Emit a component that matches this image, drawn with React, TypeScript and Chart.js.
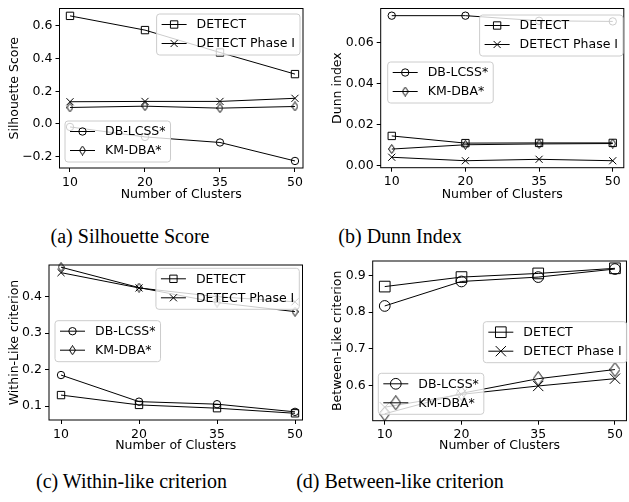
import React, { useEffect, useRef } from 'react';
import { Chart, registerables } from 'chart.js';
import { drawPoint } from 'chart.js/helpers';

Chart.register(...registerables);

// ---------- data ----------
const clusterLabels = ['10', '20', '35', '50'];
const seriesNames = ['DETECT', 'DETECT Phase I', 'DB-LCSS*', 'KM-DBA*'];

const silhouetteDetect = [0.661, 0.574, 0.437, 0.305];
const silhouettePhase1 = [0.136, 0.138, 0.138, 0.157];
const silhouetteDbLcss = [-0.018, -0.079, -0.113, -0.226];
const silhouetteKmDba = [0.101, 0.109, 0.097, 0.107];
const silhouetteTicks = [-0.2, 0.0, 0.2, 0.4, 0.6];

const dunnDetect = [0.0145, 0.011, 0.0111, 0.0111];
const dunnPhase1 = [0.0041, 0.0024, 0.0031, 0.0024];
const dunnDbLcss = [0.0732, 0.0732, 0.0707, 0.0704];
const dunnKmDba = [0.0081, 0.0102, 0.0106, 0.0108];
const dunnTicks = [0.0, 0.02, 0.04, 0.06];

const withinDetect = [0.13, 0.103, 0.094, 0.08];
const withinPhase1 = [0.466, 0.424, 0.4, 0.386];
const withinDbLcss = [0.185, 0.112, 0.105, 0.084];
const withinKmDba = [0.481, 0.425, 0.384, 0.359];
const withinTicks = [0.1, 0.2, 0.3, 0.4];

const betweenDetect = [0.87, 0.896, 0.906, 0.92];
const betweenPhase1 = [0.54, 0.575, 0.598, 0.618];
const betweenDbLcss = [0.817, 0.884, 0.896, 0.918];
const betweenKmDba = [0.522, 0.578, 0.618, 0.643];
const betweenTicks = [0.6, 0.7, 0.8, 0.9];

// ---------- layout / style ----------
const FONT_FAMILY = '"DejaVu Sans", sans-serif';
const FONT_SIZE = 12.5;
const LINE_H = FONT_SIZE * 1.2;

type LegendSpec = { items: number[]; x: number; y: number; anchor: 'left' | 'right' };
type PanelSpec = {
  key: string;
  left: number;
  top: number;
  width: number;
  height: number;
  area: { left: number; top: number; right: number; bottom: number };
  xMin: number;
  xMax: number;
  yMin: number;
  yMax: number;
  yTicks: number[];
  yDecimals: number;
  yTitle: string;
  yTitleX: number;
  xTitleY: number;
  series: number[][];
  legends: LegendSpec[];
  markerScale: number;
  caption: string;
  captionX: number;
  captionY: number;
};

const panels: PanelSpec[] = [
  {
    key: 'a', left: 0, top: 0, width: 315, height: 205,
    area: { left: 59.5, top: 8.5, right: 303, bottom: 168 },
    xMin: -0.14, xMax: 3.107, yMin: -0.269, yMax: 0.706,
    yTicks: silhouetteTicks, yDecimals: 1, yTitle: 'Silhouette Score', yTitleX: 14.5, xTitleY: 195,
    series: [silhouetteDetect, silhouettePhase1, silhouetteDbLcss, silhouetteKmDba],
    legends: [
      { items: [0, 1], x: 300, y: 14, anchor: 'right' },
      { items: [2, 3], x: 65, y: 121, anchor: 'left' },
    ],
    markerScale: 1, caption: '(a) Silhouette Score', captionX: 130, captionY: 225.7,
  },
  {
    key: 'b', left: 315, top: 0, width: 315, height: 205,
    area: { left: 65.7, top: 8.5, right: 314.2, bottom: 167.7 },
    xMin: -0.15, xMax: 3.15, yMin: -0.001, yMax: 0.0767,
    yTicks: dunnTicks, yDecimals: 2, yTitle: 'Dunn index', yTitleX: 22.7, xTitleY: 195,
    series: [dunnDetect, dunnPhase1, dunnDbLcss, dunnKmDba],
    legends: [
      { items: [0, 1], x: 308, y: 15, anchor: 'right' },
      { items: [2, 3], x: 72.7, y: 62, anchor: 'left' },
    ],
    markerScale: 1, caption: '(b) Dunn Index', captionX: 400, captionY: 225.7,
  },
  {
    key: 'c', left: 0, top: 250, width: 315, height: 205,
    area: { left: 49, top: 15, right: 302.5, bottom: 170 },
    xMin: -0.154, xMax: 3.096, yMin: 0.0616, yMax: 0.487,
    yTicks: withinTicks, yDecimals: 1, yTitle: 'Within-Like criterion', yTitleX: 15, xTitleY: 196,
    series: [withinDetect, withinPhase1, withinDbLcss, withinKmDba],
    legends: [
      { items: [0, 1], x: 299.3, y: 18.3, anchor: 'right' },
      { items: [2, 3], x: 55, y: 70.7, anchor: 'left' },
    ],
    markerScale: 1, caption: '(c) Within-like criterion', captionX: 131.5, captionY: 470.5,
  },
  {
    key: 'd', left: 315, top: 250, width: 320, height: 205,
    area: { left: 57.7, top: 11, right: 316.7, bottom: 170.7 },
    xMin: -0.157, xMax: 3.15, yMin: 0.503, yMax: 0.94,
    yTicks: betweenTicks, yDecimals: 1, yTitle: 'Between-Like criterion', yTitleX: 22.7, xTitleY: 196,
    series: [betweenDetect, betweenPhase1, betweenDbLcss, betweenKmDba],
    legends: [
      { items: [0, 1], x: 311.7, y: 71.7, anchor: 'right' },
      { items: [2, 3], x: 63.3, y: 123.3, anchor: 'left' },
    ],
    markerScale: 1.45, caption: '(d) Between-like criterion', captionX: 400, captionY: 470.5,
  },
];

// ---------- markers ----------
type Marker = { style: any; radius: number };

function thinDiamond(w: number, h: number): HTMLCanvasElement {
  const c = document.createElement('canvas');
  c.width = w;
  c.height = h;
  const g = c.getContext('2d')!;
  g.strokeStyle = '#000';
  g.lineWidth = 1;
  g.beginPath();
  g.moveTo(w / 2, 0.5);
  g.lineTo(w - 0.5, h / 2);
  g.lineTo(w / 2, h - 0.5);
  g.lineTo(0.5, h / 2);
  g.closePath();
  g.stroke();
  return c;
}

function makeMarkers(scale: number): Marker[] {
  const dw = Math.round(7 * scale);
  const dh = Math.round(10 * scale);
  return [
    { style: 'rect', radius: 5.2 * scale },
    { style: 'crossRot', radius: 5 * scale },
    { style: 'circle', radius: 3.7 * scale },
    { style: thinDiamond(dw % 2 ? dw : dw + 1, dh), radius: 5 * scale },
  ];
}

// ---------- plugin: frame + two in-axes legends ----------
function makeDecorPlugin(spec: PanelSpec, markers: Marker[]) {
  return {
    id: 'decor_' + spec.key,
    afterDatasetsDraw(chart: any) {
      const { ctx, chartArea: a } = chart;
      ctx.save();
      ctx.strokeStyle = '#000';
      ctx.lineWidth = 1;
      ctx.strokeRect(a.left, a.top, a.right - a.left, a.bottom - a.top);

      ctx.font = `${FONT_SIZE}px ${FONT_FAMILY}`;
      const pad = 5;
      const handle = 25;
      const gap = 10;
      const pitch = 19;
      for (const lg of spec.legends) {
        const textW = Math.max(...lg.items.map((i) => ctx.measureText(seriesNames[i]).width));
        const w = pad + handle + gap + textW + pad;
        const h = 41;
        const x0 = lg.anchor === 'left' ? lg.x : lg.x - w;
        const y0 = lg.y;
        ctx.beginPath();
        const r = 3;
        ctx.moveTo(x0 + r, y0);
        ctx.arcTo(x0 + w, y0, x0 + w, y0 + h, r);
        ctx.arcTo(x0 + w, y0 + h, x0, y0 + h, r);
        ctx.arcTo(x0, y0 + h, x0, y0, r);
        ctx.arcTo(x0, y0, x0 + w, y0, r);
        ctx.closePath();
        ctx.fillStyle = 'rgba(255,255,255,0.8)';
        ctx.fill();
        ctx.strokeStyle = '#cccccc';
        ctx.lineWidth = 1;
        ctx.stroke();

        lg.items.forEach((si, row) => {
          const cy = y0 + 10.5 + row * pitch;
          const hx0 = x0 + pad;
          ctx.strokeStyle = '#000';
          ctx.lineWidth = 1;
          ctx.beginPath();
          ctx.moveTo(hx0, cy);
          ctx.lineTo(hx0 + handle, cy);
          ctx.stroke();
          ctx.fillStyle = 'rgba(0,0,0,0)';
          ctx.strokeStyle = '#000';
          ctx.lineWidth = 1;
          drawPoint(ctx, { pointStyle: markers[si].style, radius: markers[si].radius, rotation: 0, borderWidth: 1 } as any, hx0 + handle / 2, cy);
          ctx.fillStyle = '#000';
          ctx.textBaseline = 'middle';
          ctx.textAlign = 'left';
          ctx.fillText(seriesNames[si], hx0 + handle + gap, cy + 0.5);
        });
      }
      ctx.restore();
    },
  };
}

function Panel({ spec }: { spec: PanelSpec }) {
  const ref = useRef<HTMLCanvasElement | null>(null);
  useEffect(() => {
    const canvas = ref.current;
    if (!canvas) return;
    const markers = makeMarkers(spec.markerScale);
    const font = { family: FONT_FAMILY, size: FONT_SIZE, lineHeight: 1.2 };
    const chart = new Chart(canvas, {
      type: 'line',
      data: {
        datasets: spec.series.map((vals, si) => ({
          label: seriesNames[si],
          data: vals.map((v, i) => ({ x: i, y: v })),
          borderColor: '#000',
          borderWidth: 1,
          pointStyle: markers[si].style,
          pointRadius: markers[si].radius,
          pointBorderColor: '#000',
          pointBackgroundColor: 'rgba(0,0,0,0)',
          pointBorderWidth: 1,
          fill: false,
          tension: 0,
          clip: false as any,
        })),
      },
      options: {
        animation: false,
        responsive: false,
        maintainAspectRatio: false,
        devicePixelRatio: 1,
        events: [],
        layout: { padding: { left: 0, top: spec.area.top, right: spec.width - spec.area.right, bottom: 0 } },
        plugins: { legend: { display: false }, tooltip: { enabled: false } },
        scales: {
          x: {
            type: 'linear',
            min: spec.xMin,
            max: spec.xMax,
            afterBuildTicks: (s: any) => {
              s.ticks = clusterLabels.map((_, i) => ({ value: i }));
            },
            afterFit: (s: any) => {
              s.height = spec.height - spec.area.bottom;
              s.paddingLeft = 0;
              s.paddingRight = 0;
            },
            ticks: {
              callback: (v: any) => clusterLabels[Math.round(Number(v))] ?? '',
              color: '#000',
              padding: 3,
              maxRotation: 0,
              autoSkip: false,
              font,
            },
            grid: { drawOnChartArea: false, drawTicks: true, tickLength: 4, color: '#000', lineWidth: 1 },
            border: { display: false },
            title: {
              display: true,
              text: 'Number of Clusters',
              color: '#000',
              font,
              padding: { top: 0, bottom: spec.height - spec.xTitleY - LINE_H / 2 },
            },
          },
          y: {
            type: 'linear',
            min: spec.yMin,
            max: spec.yMax,
            afterBuildTicks: (s: any) => {
              s.ticks = spec.yTicks.map((v) => ({ value: v }));
            },
            afterFit: (s: any) => {
              s.width = spec.area.left;
              s.paddingTop = 0;
              s.paddingBottom = 0;
            },
            ticks: {
              callback: (v: any) => {
                const n = Math.abs(Number(v)) < 1e-9 ? 0 : Number(v);
                return n.toFixed(spec.yDecimals).replace('-', '\u2212');
              },
              color: '#000',
              padding: 3,
              autoSkip: false,
              font,
            },
            grid: { drawOnChartArea: false, drawTicks: true, tickLength: 4, color: '#000', lineWidth: 1 },
            border: { display: false },
            title: {
              display: true,
              text: spec.yTitle,
              color: '#000',
              font,
              padding: { top: spec.yTitleX - LINE_H / 2, bottom: 0 },
            },
          },
        },
      } as any,
      plugins: [makeDecorPlugin(spec, markers)],
    });
    return () => chart.destroy();
  }, [spec]);
  return (
    <canvas
      ref={ref}
      width={spec.width}
      height={spec.height}
      style={{ position: 'absolute', left: spec.left, top: spec.top, width: spec.width, height: spec.height }}
    />
  );
}

export default function App() {
  return (
    <div
      style={{
        position: 'absolute',
        left: 0,
        top: 0,
        width: 629,
        height: 502,
        overflow: 'hidden',
        background: '#fff',
      }}
    >
      {panels.map((p) => (
        <Panel key={p.key} spec={p} />
      ))}
      {panels.map((p) => (
        <div
          key={'cap_' + p.key}
          style={{
            position: 'absolute',
            left: p.captionX - 150,
            width: 300,
            top: p.captionY,
            textAlign: 'center',
            fontFamily: '"Liberation Serif", "Times New Roman", serif',
            fontSize: 20,
            lineHeight: '20px',
            color: '#000',
            whiteSpace: 'nowrap',
          }}
        >
          {p.caption}
        </div>
      ))}
    </div>
  );
}
